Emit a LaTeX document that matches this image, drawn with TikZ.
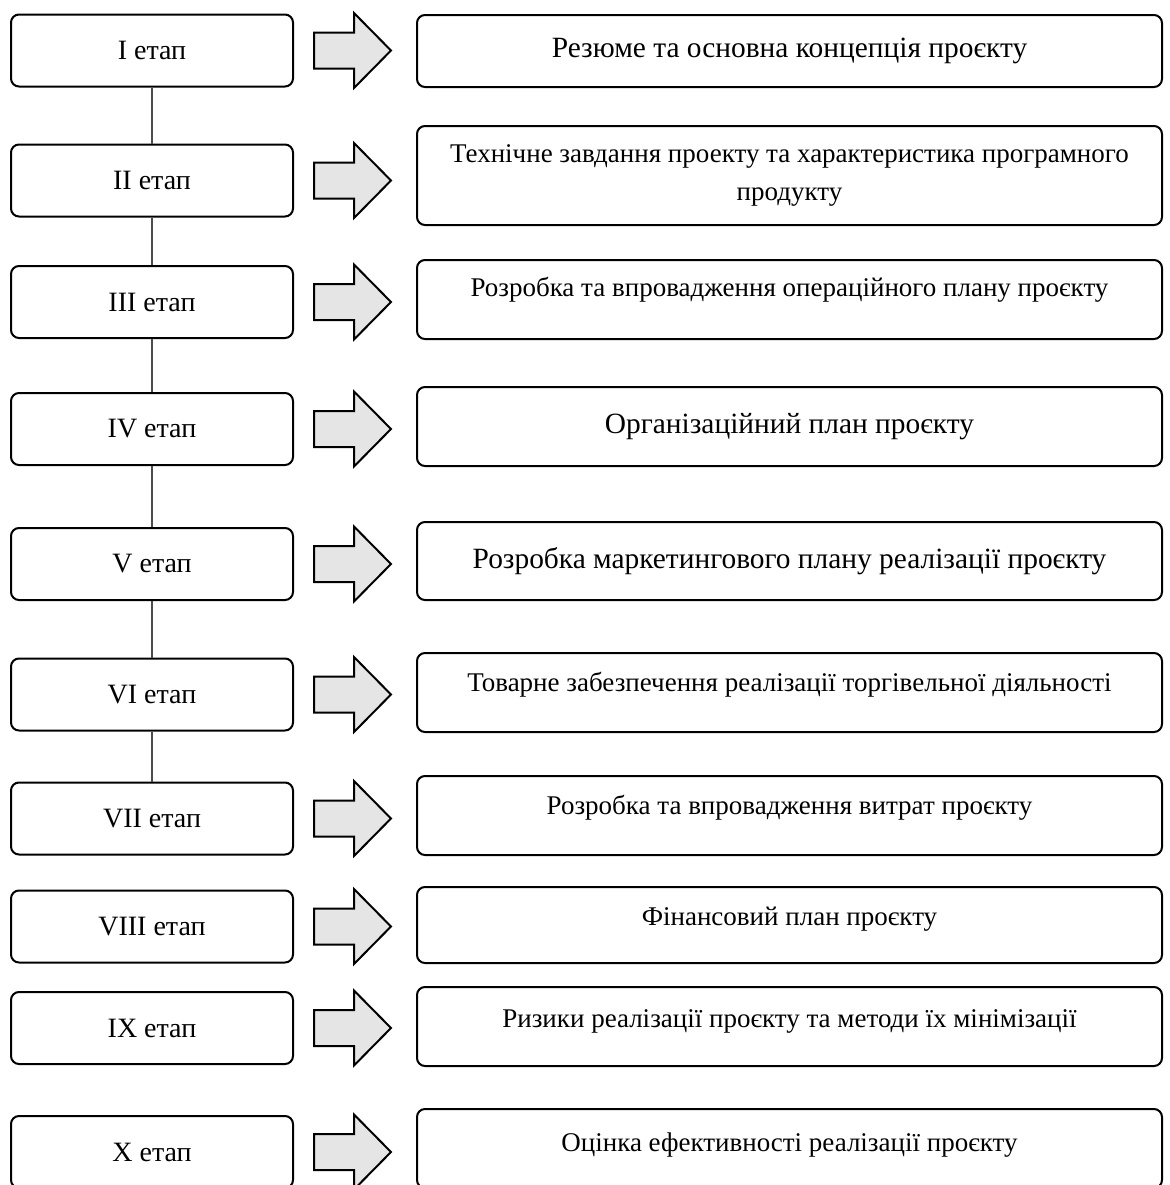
\documentclass[tikz,border=0pt]{standalone}
\usepackage{fontspec}
\setmainfont{Liberation Serif}
\usetikzlibrary{positioning}

\newcommand{\stagefont}{\fontsize{14pt}{17pt}\selectfont}
\newcommand{\bigtaskfont}{\fontsize{14.7pt}{18pt}\selectfont}
\newcommand{\taskfont}{\fontsize{13.5pt}{19pt}\selectfont}

\tikzset{
  stage/.style={draw=black,line width=1pt,rounded corners=4pt,minimum width=141pt,minimum height=36pt,inner sep=0pt,font=\stagefont},
  task/.style={draw=black,line width=1pt,rounded corners=4pt,minimum width=372.5pt,inner sep=0pt,align=center,font=\taskfont},
  link/.style={draw=gray!60!black,line width=0.6pt},
  pics/goarrow/.style={code={
    \draw[line width=1pt,fill=gray!20,line join=miter] (0,-18) -- (40,-18) -- (40,-37.5) -- (77,0) -- (40,37.5) -- (40,18) -- (0,18) -- cycle;}}
}

\begin{document}
\begin{tikzpicture}[x=0.5pt,y=-0.5pt]
\useasboundingbox (0,0) rectangle (1170,1185);

\node[stage] (s1) at (152,50.5) {I етап};
\node[stage] (s2) at (152,180.5) {II етап};
\node[stage] (s3) at (152,302) {III етап};
\node[stage] (s4) at (152,429) {IV етап};
\node[stage] (s5) at (152,564) {V етап};
\node[stage] (s6) at (152,694.5) {VI етап};
\node[stage] (s7) at (152,818.5) {VII етап};
\node[stage] (s8) at (152,926.5) {VIII етап};
\node[stage] (s9) at (152,1028) {IX етап};
\node[stage] (s10) at (152,1152) {X етап};

\draw[link] (s1) -- (s2);
\draw[link] (s2) -- (s3);
\draw[link] (s3) -- (s4);
\draw[link] (s4) -- (s5);
\draw[link] (s5) -- (s6);
\draw[link] (s6) -- (s7);

\pic at ([xshift=10pt]s1.east) {goarrow};
\pic at ([xshift=10pt]s2.east) {goarrow};
\pic at ([xshift=10pt]s3.east) {goarrow};
\pic at ([xshift=10pt]s4.east) {goarrow};
\pic at ([xshift=10pt]s5.east) {goarrow};
\pic at ([xshift=10pt]s6.east) {goarrow};
\pic at ([xshift=10pt]s7.east) {goarrow};
\pic at ([xshift=10pt]s8.east) {goarrow};
\pic at ([xshift=10pt]s9.east) {goarrow};
\pic at ([xshift=10pt]s10.east) {goarrow};

\node[task,minimum height=36pt,font=\bigtaskfont] (t1) at (789.5,51) {Резюме та основна концепція проєкту};
\node[task,minimum height=49.5pt] (t2) at (789.5,175.5) {Технічне завдання проекту та характеристика програмного\\продукту};
\node[task,minimum height=39.5pt,text depth=13pt] (t3) at (789.5,299.5) {Розробка та впровадження операційного плану проєкту};
\node[task,minimum height=39.5pt,font=\bigtaskfont] (t4) at (789.5,426.5) {Організаційний план проєкту};
\node[task,minimum height=39pt,font=\bigtaskfont] (t5) at (789.5,561) {Розробка маркетингового плану реалізації проєкту};
\node[task,minimum height=39.5pt,text depth=11pt] (t6) at (789.5,692.5) {Товарне забезпечення реалізації торгівельної діяльності};
\node[task,minimum height=39.5pt,text depth=11pt] (t7) at (789.5,815.5) {Розробка та впровадження витрат проєкту};
\node[task,minimum height=38pt,text depth=9pt] (t8) at (789.5,925) {Фінансовий план проєкту};
\node[task,minimum height=39.5pt,text depth=8pt] (t9) at (789.5,1026.5) {Ризики реалізації проєкту та методи їх мінімізації};
\node[task,minimum height=39.5pt,text depth=6pt] (t10) at (789.5,1148.5) {Оцінка ефективності реалізації проєкту};
\end{tikzpicture}
\end{document}
